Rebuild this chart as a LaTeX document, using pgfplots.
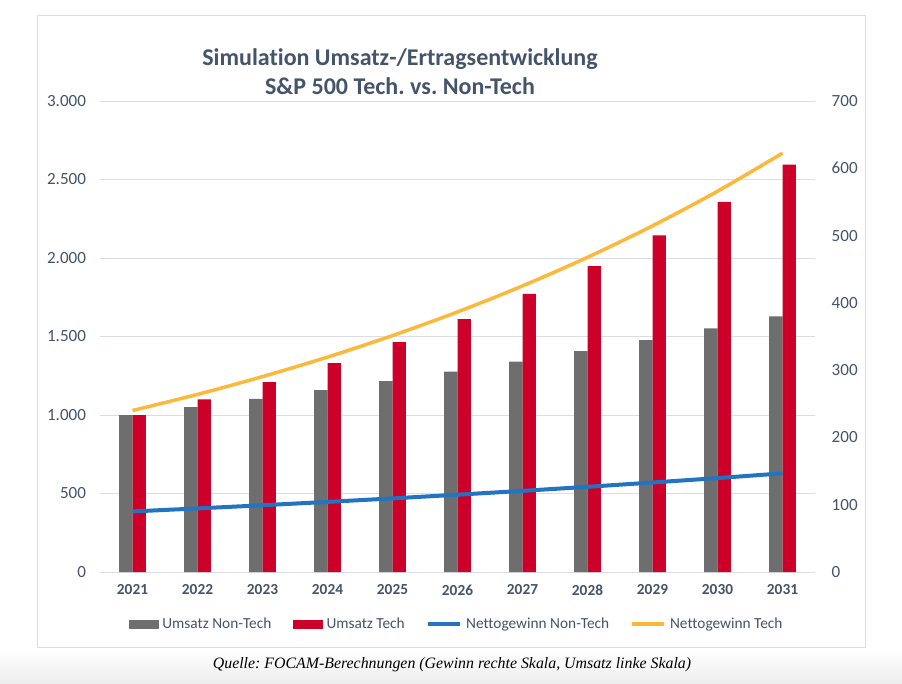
\documentclass[border=0pt]{standalone}
\usepackage{fontspec}
\setmainfont{Carlito}[Ligatures=NoCommon]
\newfontfamily\capfont{Liberation Serif}
\usepackage{pgfplots}
\usepackage{pgfplotstable}
\pgfplotsset{compat=1.18}
\definecolor{txt}{HTML}{44546A}
\definecolor{gridc}{HTML}{D9DEE6}
\definecolor{barGray}{HTML}{6E6E6E}
\definecolor{barRed}{HTML}{CC0029}
\definecolor{lineBlue}{HTML}{2273C0}
\definecolor{lineGold}{HTML}{FDB83A}

\pgfplotstableread{
x umsatzNon umsatzTech gewinnNon gewinnTech
0 1000 1000 90.0 240.0
1 1050 1100 94.5 264.0
2 1102 1210 99.2 290.4
3 1158 1331 104.2 319.4
4 1216 1464 109.4 351.4
5 1276 1611 114.9 386.5
6 1340 1772 120.6 425.2
7 1407 1949 126.6 467.7
8 1477 2144 133.0 514.5
9 1551 2358 139.6 565.9
10 1629 2594 146.6 622.5
}\data

\begin{document}
\frenchspacing
\begin{tikzpicture}
\path[use as bounding box] (0pt,0pt) rectangle (676.5pt,512.25pt);
\shade[top color=white,bottom color=black!7] (0pt,0pt) rectangle (676.5pt,25.5pt);
\fill[white] (27.75pt,27pt) rectangle (648.75pt,500.25pt);
\draw[gridc, line width=0.75pt] (27.75pt,27pt) rectangle (648.75pt,500.25pt);

\node[font=\fontsize{18}{21.75}\selectfont\bfseries, text=txt, align=center] at (300pt,458.25pt)
  {Simulation Umsatz-/Ertragsentwicklung\\S\&P 500 Tech. vs. Non-Tech};

\node[font=\capfont\itshape\fontsize{11.9}{14}\selectfont] at (339pt,13.5pt)
  {Quelle: FOCAM-Berechnungen (Gewinn rechte Skala, Umsatz linke Skala)};

\begin{axis}[
  at={(75pt,83.25pt)}, anchor=south west, scale only axis,
  width=536.25pt, height=353.25pt,
  xmin=-0.5, xmax=10.5, ymin=0, ymax=3000,
  ytick={0,500,...,3000},
  xtick={0,...,10},
  xticklabels={2021,2022,2023,2024,2025,2026,2027,2028,2029,2030,2031},
  ymajorgrids, grid style={gridc, line width=0.75pt},
  axis line style={draw=none},
  major tick length=0pt,
  ybar=0pt, bar width=10.1pt,
  /pgf/number format/1000 sep={.},
  /pgf/number format/assume math mode=true,
  yticklabel style={font=\fontsize{12.8}{14}\selectfont, text=txt, xshift=-7pt},
  xticklabel style={font=\fontsize{11.5}{14}\selectfont\bfseries, text=txt, yshift=-6pt},
]
\addplot[fill=barGray, draw=none] table[x=x, y=umsatzNon] {\data};
\addplot[fill=barRed, draw=none] table[x=x, y=umsatzTech] {\data};
\end{axis}

\begin{axis}[
  at={(75pt,83.25pt)}, anchor=south west, scale only axis,
  width=536.25pt, height=353.25pt,
  xmin=-0.5, xmax=10.5, ymin=0, ymax=700,
  ytick={0,100,...,700},
  axis x line=none, axis y line*=right,
  axis line style={draw=none},
  major tick length=0pt,
  /pgf/number format/assume math mode=true,
  yticklabel style={font=\fontsize{12.8}{14}\selectfont, text=txt, xshift=9pt},
  legend columns=4,
  legend style={at={(0.5,-0.11)}, anchor=center, draw=none, fill=none,
    font=\fontsize{11.5}{14}\selectfont, text=txt,
    nodes={inner xsep=3pt},
    /tikz/every even column/.append style={column sep=13pt}},
  legend image code/.code={\draw[#1] (0pt,0pt) -- (24pt,0pt);},
]
\addlegendimage{legend image code/.code={\fill[barGray] (0pt,-3pt) rectangle (22pt,3pt);}}
\addlegendentry{Umsatz Non-Tech}
\addlegendimage{legend image code/.code={\fill[barRed] (0pt,-3pt) rectangle (22pt,3pt);}}
\addlegendentry{Umsatz Tech}
\addplot[lineBlue, line width=3pt, mark=none] table[x=x, y=gewinnNon] {\data};
\addlegendentry{Nettogewinn Non-Tech}
\addplot[lineGold, line width=2.6pt, mark=none, smooth] table[x=x, y=gewinnTech] {\data};
\addlegendentry{Nettogewinn Tech}
\end{axis}
\end{tikzpicture}
\end{document}
